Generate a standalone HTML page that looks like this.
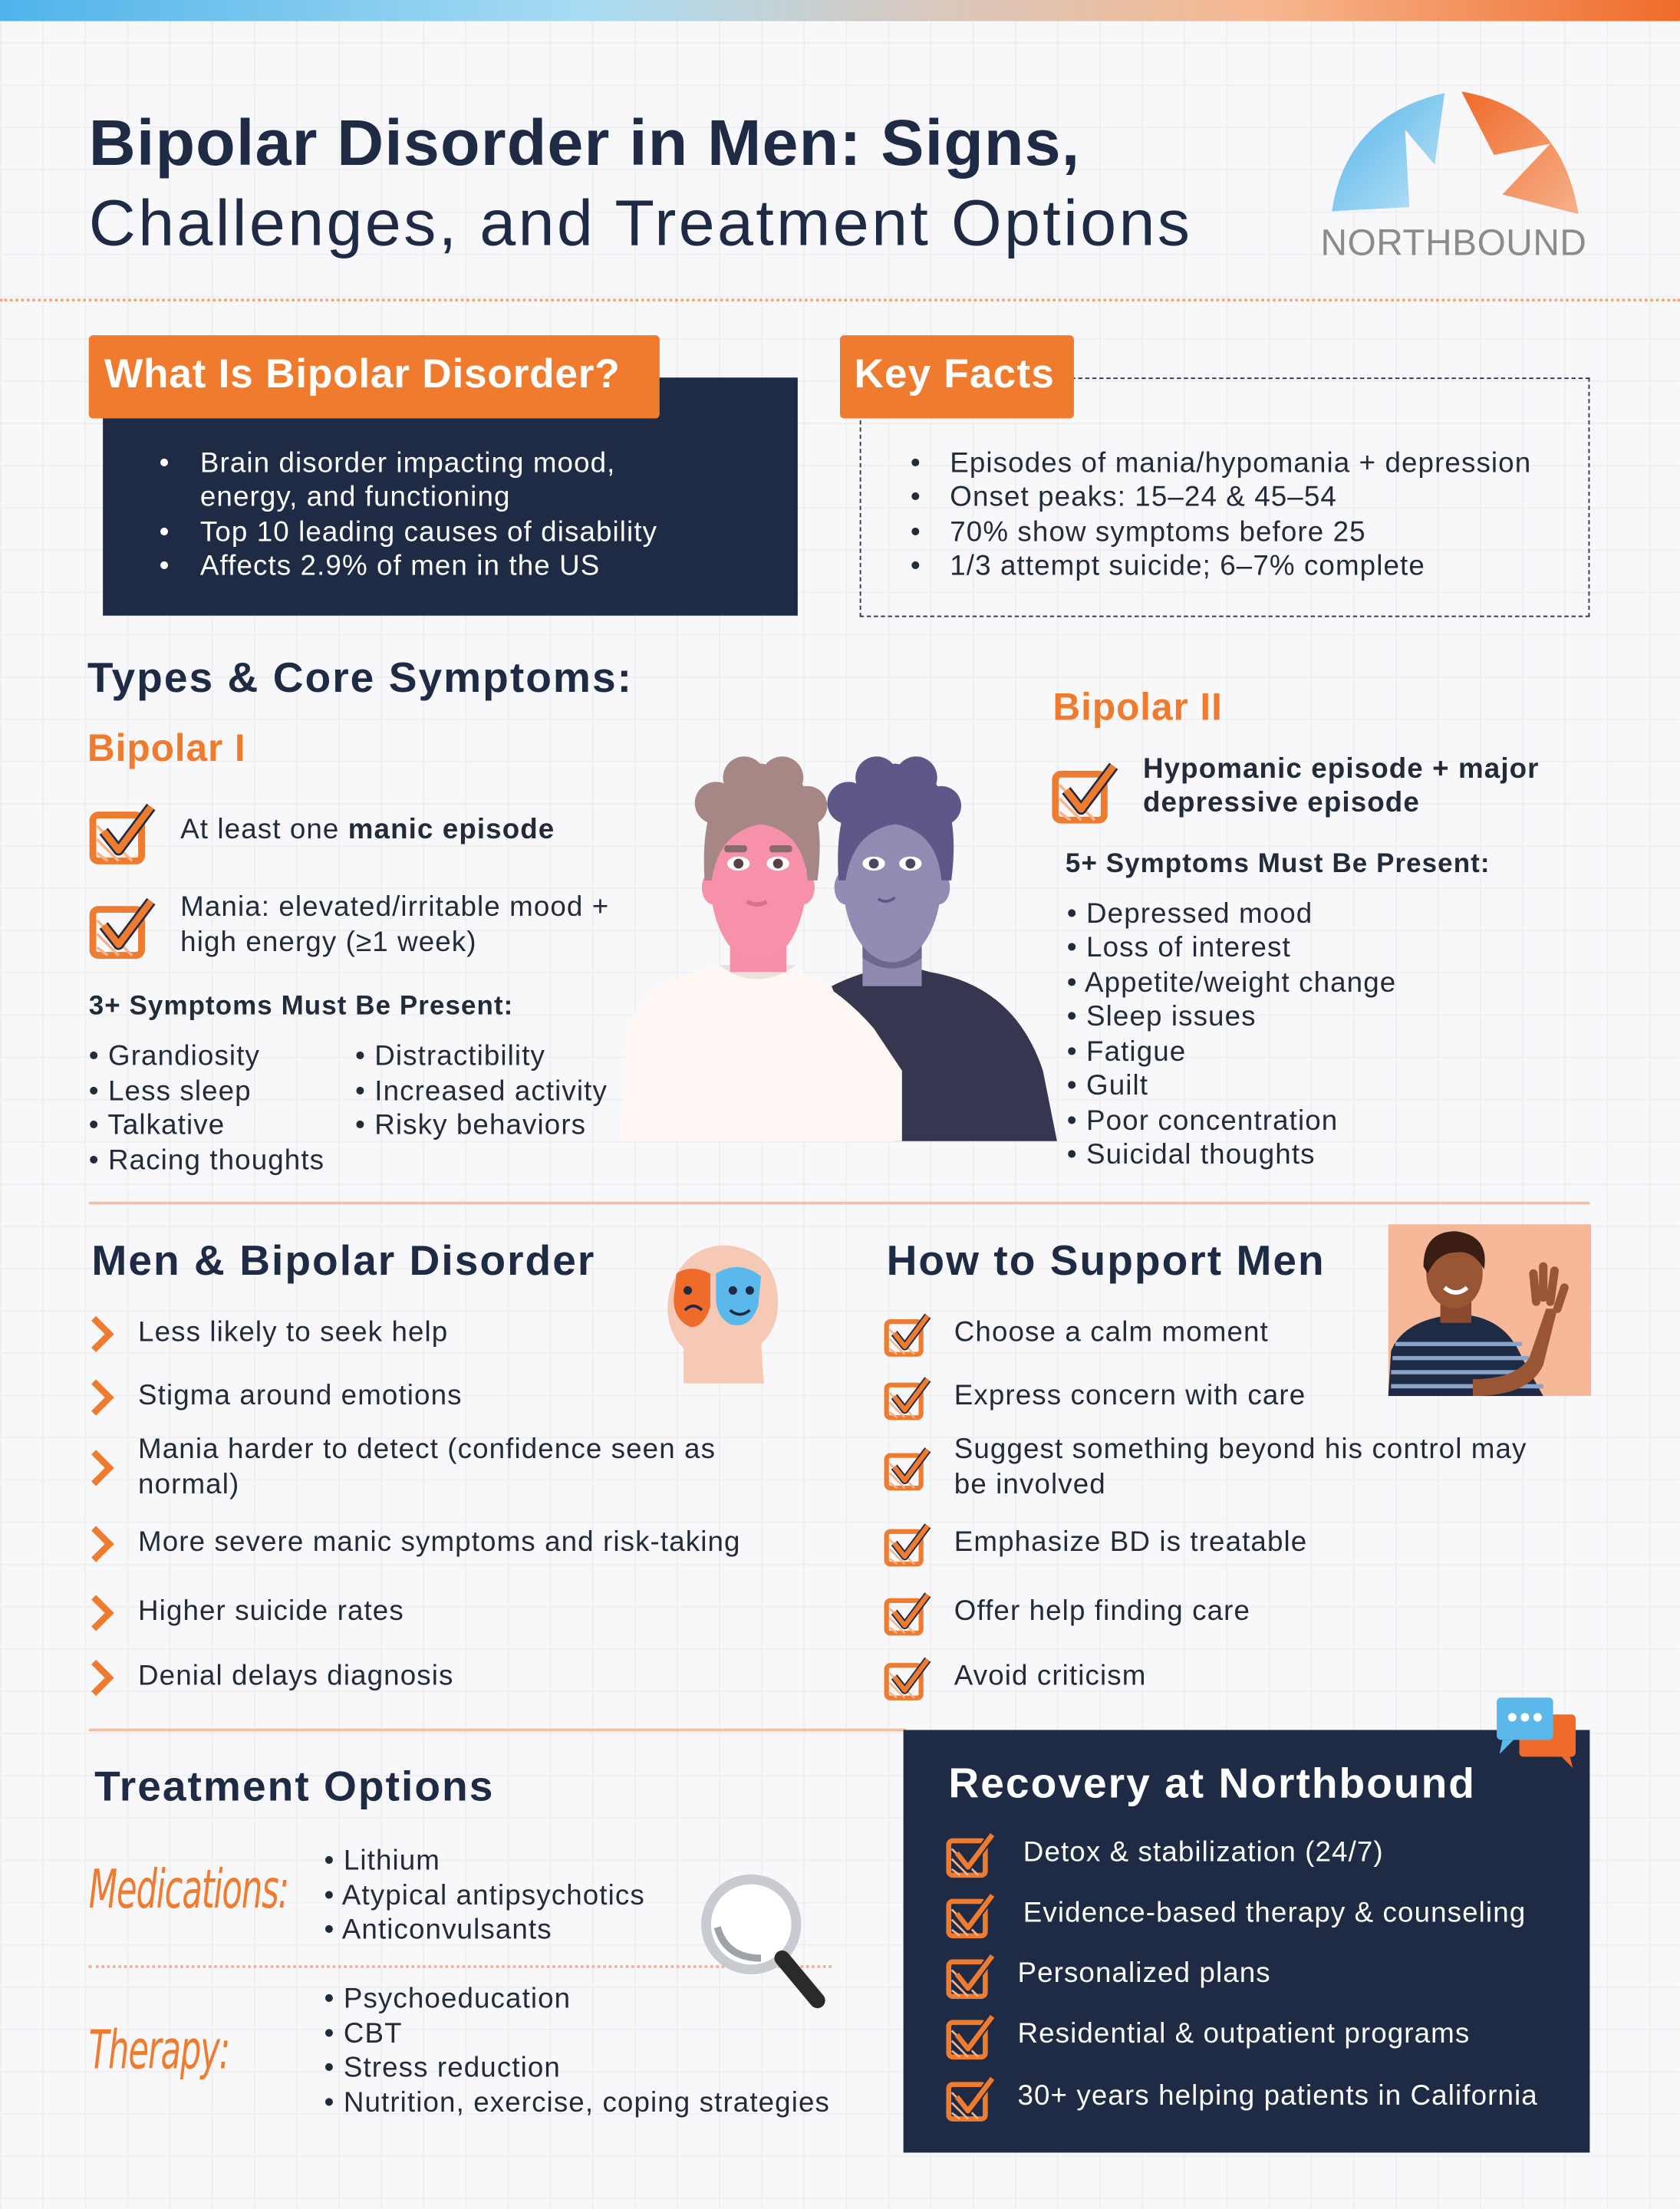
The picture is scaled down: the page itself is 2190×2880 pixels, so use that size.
<!DOCTYPE html>
<html><head><meta charset="utf-8">
<style>
html,body{margin:0;padding:0;}
body{width:2190px;height:2880px;overflow:hidden;background:#f8f8fa;}
#w{position:absolute;left:0;top:0;width:1192px;height:1568px;transform-origin:0 0;transform:scale(1.8372,1.8367);
 background-color:#f8f8fa;
 background-image:linear-gradient(#efeff2 1px,transparent 1px),linear-gradient(90deg,#efeff2 1px,transparent 1px);background-size:30px 30px;
 font-family:"Liberation Sans",sans-serif;color:#1f2a44;}
.t{position:absolute;white-space:nowrap;line-height:1;}
.b{font-size:20px;letter-spacing:0.6px;color:#222b3a;}
.h{font-size:30px;font-weight:bold;color:#1f2a44;letter-spacing:1.1px;}
.o{color:#ef7b2f;}
.w{color:#fff;}
.ck{position:absolute;}
</style></head><body>
<div id="w">
<svg width="0" height="0" style="position:absolute">
<defs>
<symbol id="ck" viewBox="0 0 50 50">
<rect x="3" y="12" width="36" height="34" rx="4" fill="none" stroke="#ef7b2f" stroke-width="5"/>
<path d="M6 40 L14 46 M6 30 L22 46 M6 20 L32 46" stroke="#f6b48a" stroke-width="2"/>
<path d="M11 24 L22 38 L46 6" fill="none" stroke="#1f2a44" stroke-width="8" stroke-linejoin="round"/>
<path d="M11 24 L22 38 L46 6" fill="none" stroke="#ef7b2f" stroke-width="5" stroke-linejoin="round"/>
</symbol>
<symbol id="chev" viewBox="0 0 20 30">
<path d="M3 3 L15 15 L3 27" fill="none" stroke="#ef7b2f" stroke-width="5"/>
</symbol>
</defs></svg>

<div style="position:absolute;left:0;top:0;width:1192px;height:15px;background:linear-gradient(90deg,#4fb3ea 0%,#a8dcf3 35%,#d8c9bf 55%,#f6b890 75%,#f06b2a 100%);"></div>

<div class="t" style="left:63px;top:78px;font-size:46px;font-weight:bold;color:#1f2a44;letter-spacing:0.6px;">Bipolar Disorder in Men: Signs,</div>
<div class="t" style="left:63px;top:135px;font-size:46px;color:#1f2a44;letter-spacing:1.8px;">Challenges, and Treatment Options</div>

<svg style="position:absolute;left:940px;top:62px" width="185" height="95" viewBox="0 0 185 95">
<defs>
<linearGradient id="lb" x1="0" y1="0" x2="1" y2="1"><stop offset="0" stop-color="#4fb3ea"/><stop offset="1" stop-color="#bfe3f5"/></linearGradient>
<linearGradient id="lo" x1="0" y1="0" x2="1" y2="1"><stop offset="0" stop-color="#ef6b2a"/><stop offset="1" stop-color="#f6b08a"/></linearGradient>
</defs>
<path d="M5 88 Q15 20 85 4 L78 55 L57 30 L60 85 Z" fill="url(#lb)"/>
<path d="M97 3 Q168 15 180 90 L126 76 L160 40 L120 48 Z" fill="url(#lo)"/>
</svg>
<div class="t" style="left:937px;top:159px;font-size:26px;color:#8b8b8b;letter-spacing:0.3px;">NORTHBOUND</div>

<div style="position:absolute;left:0;top:212px;width:1192px;border-top:2px dotted #f3a77e;"></div>

<div style="position:absolute;left:73px;top:268px;width:493px;height:169px;background:#1f2a44;"></div>
<div style="position:absolute;left:63px;top:238px;width:405px;height:59px;background:#ef7b2f;border-radius:3px;"></div>
<div class="t w" style="left:74px;top:252px;font-size:29px;font-weight:bold;letter-spacing:0.4px;">What Is Bipolar Disorder?</div>
<div class="t b w" style="left:113px;top:319px;">•</div><div class="t b w" style="left:142px;top:319px;">Brain disorder impacting mood,</div>
<div class="t b w" style="left:142px;top:343px;">energy, and functioning</div>
<div class="t b w" style="left:113px;top:368px;">•</div><div class="t b w" style="left:142px;top:368px;">Top 10 leading causes of disability</div>
<div class="t b w" style="left:113px;top:392px;">•</div><div class="t b w" style="left:142px;top:392px;">Affects 2.9% of men in the US</div>

<div style="position:absolute;left:610px;top:268px;width:516px;height:168px;border:1.5px dashed #2a3350;"></div>
<div style="position:absolute;left:596px;top:238px;width:166px;height:59px;background:#ef7b2f;border-radius:3px;"></div>
<div class="t w" style="left:606px;top:252px;font-size:29px;font-weight:bold;letter-spacing:0.6px;">Key Facts</div>
<div class="t b" style="left:646px;top:319px;">•</div><div class="t b" style="left:674px;top:319px;">Episodes of mania/hypomania + depression</div>
<div class="t b" style="left:646px;top:343px;">•</div><div class="t b" style="left:674px;top:343px;">Onset peaks: 15–24 &amp; 45–54</div>
<div class="t b" style="left:646px;top:368px;">•</div><div class="t b" style="left:674px;top:368px;">70% show symptoms before 25</div>
<div class="t b" style="left:646px;top:392px;">•</div><div class="t b" style="left:674px;top:392px;">1/3 attempt suicide; 6–7% complete</div>

<div class="t h" style="left:62px;top:467px;">Types &amp; Core Symptoms:</div>
<div class="t o" style="left:62px;top:518px;font-size:27px;font-weight:bold;letter-spacing:0.5px;">Bipolar I</div>
<svg class="ck" style="left:63px;top:567px" width="48" height="48"><use href="#ck"/></svg>
<div class="t b" style="left:128px;top:579px;">At least one <b>manic episode</b></div>
<svg class="ck" style="left:63px;top:634px" width="48" height="48"><use href="#ck"/></svg>
<div class="t b" style="left:128px;top:634px;">Mania: elevated/irritable mood +</div>
<div class="t b" style="left:128px;top:659px;">high energy (≥1 week)</div>
<div class="t b" style="left:63px;top:705px;font-weight:bold;font-size:19px;">3+ Symptoms Must Be Present:</div>
<div class="t b" style="left:63px;top:740px;">• Grandiosity</div>
<div class="t b" style="left:63px;top:765px;">• Less sleep</div>
<div class="t b" style="left:63px;top:789px;">• Talkative</div>
<div class="t b" style="left:63px;top:814px;">• Racing thoughts</div>
<div class="t b" style="left:252px;top:740px;">• Distractibility</div>
<div class="t b" style="left:252px;top:765px;">• Increased activity</div>
<div class="t b" style="left:252px;top:789px;">• Risky behaviors</div>

<svg style="position:absolute;left:440px;top:530px" width="312" height="282" viewBox="0 0 312 282">
<path d="M150 170 Q190 150 220 160 Q280 170 300 230 L310 280 L195 280 Z" fill="#373650"/>
<rect x="172" y="110" width="42" height="60" fill="#8e89b0"/>
<path d="M172 150 Q193 165 214 150 L214 140 L172 140 Z" fill="#6e6890"/>
<ellipse cx="193" cy="95" rx="35" ry="58" fill="#918cb3"/>
<ellipse cx="160" cy="100" rx="8" ry="12" fill="#918cb3"/><ellipse cx="226" cy="100" rx="8" ry="12" fill="#918cb3"/>
<path d="M155 95 Q150 20 195 12 Q245 18 235 95 L228 95 Q225 60 195 55 Q165 60 160 95 Z" fill="#5e5889"/>
<circle cx="162" cy="40" r="15" fill="#5e5889"/><circle cx="182" cy="22" r="15" fill="#5e5889"/><circle cx="210" cy="22" r="15" fill="#5e5889"/><circle cx="228" cy="42" r="14" fill="#5e5889"/>
<ellipse cx="180" cy="83" rx="8" ry="5" fill="#fff"/><circle cx="180" cy="83" r="3.5" fill="#4a4560"/>
<ellipse cx="206" cy="83" rx="8" ry="5" fill="#fff"/><circle cx="206" cy="83" r="3.5" fill="#4a4560"/>
<path d="M183 108 Q189 112 195 107" stroke="#5e5889" stroke-width="2" fill="none"/>
<path d="M0 280 L5 200 Q15 165 75 155 L105 150 Q150 165 180 200 L200 230 L200 280 Z" fill="#fff7f3"/>
<path d="M70 155 Q97 175 125 155 Z" fill="#e8e2de"/>
<rect x="78" y="110" width="40" height="50" fill="#f58fa8"/>
<path d="M78 140 Q98 155 118 140 Z" fill="#d9718d"/>
<ellipse cx="98" cy="95" rx="34" ry="58" fill="#f790a9"/>
<ellipse cx="66" cy="100" rx="8" ry="12" fill="#f790a9"/><ellipse cx="130" cy="100" rx="8" ry="12" fill="#f790a9"/>
<path d="M60 95 Q55 20 100 12 Q150 18 140 95 L133 95 Q130 60 100 55 Q70 60 65 95 Z" fill="#a78786"/>
<circle cx="68" cy="40" r="15" fill="#a78786"/><circle cx="88" cy="22" r="15" fill="#a78786"/><circle cx="115" cy="22" r="15" fill="#a78786"/><circle cx="133" cy="42" r="14" fill="#a78786"/>
<rect x="74" y="70" width="16" height="5" rx="2" fill="#8a6a68"/><rect x="106" y="70" width="16" height="5" rx="2" fill="#8a6a68"/>
<ellipse cx="84" cy="83" rx="8" ry="5" fill="#fff"/><circle cx="84" cy="83" r="3.5" fill="#5a4040"/>
<ellipse cx="112" cy="83" rx="8" ry="5" fill="#fff"/><circle cx="112" cy="83" r="3.5" fill="#5a4040"/>
<path d="M90 110 Q97 114 104 110" stroke="#d9718d" stroke-width="3" fill="none"/>
</svg>

<div class="t o" style="left:747px;top:489px;font-size:27px;font-weight:bold;letter-spacing:0.5px;">Bipolar II</div>
<svg class="ck" style="left:746px;top:538px" width="48" height="48"><use href="#ck"/></svg>
<div class="t b" style="left:811px;top:536px;font-weight:bold;">Hypomanic episode + major</div>
<div class="t b" style="left:811px;top:560px;font-weight:bold;">depressive episode</div>
<div class="t b" style="left:756px;top:604px;font-weight:bold;font-size:19px;">5+ Symptoms Must Be Present:</div>
<div class="t b" style="left:757px;top:639px;">• Depressed mood</div>
<div class="t b" style="left:757px;top:663px;">• Loss of interest</div>
<div class="t b" style="left:757px;top:688px;">• Appetite/weight change</div>
<div class="t b" style="left:757px;top:712px;">• Sleep issues</div>
<div class="t b" style="left:757px;top:737px;">• Fatigue</div>
<div class="t b" style="left:757px;top:761px;">• Guilt</div>
<div class="t b" style="left:757px;top:786px;">• Poor concentration</div>
<div class="t b" style="left:757px;top:810px;">• Suicidal thoughts</div>

<div style="position:absolute;left:63px;top:853px;width:1065px;height:2px;background:#f4c0a4;"></div>

<div class="t h" style="left:65px;top:881px;">Men &amp; Bipolar Disorder</div>
<svg style="position:absolute;left:470px;top:882px" width="85" height="105" viewBox="0 0 85 105">
<path d="M15 100 L15 75 Q0 60 5 35 Q15 2 45 2 Q80 5 82 40 Q83 60 70 72 L72 100 Z" fill="#f5c9b5"/>
<path d="M10 22 Q20 15 34 22 L34 45 Q30 60 20 60 Q8 55 8 40 Z" fill="#ef6b2a"/>
<path d="M38 22 Q55 12 70 24 L68 45 Q62 62 48 58 Q38 52 38 40 Z" fill="#5bb8ea"/>
<circle cx="18" cy="34" r="3" fill="#1f2a44"/><circle cx="50" cy="34" r="3" fill="#1f2a44"/><circle cx="62" cy="34" r="3" fill="#1f2a44"/>
<path d="M16 48 Q22 42 28 48" stroke="#1f2a44" stroke-width="2" fill="none"/>
<path d="M48 48 Q55 54 62 48" stroke="#1f2a44" stroke-width="2" fill="none"/>
</svg>
<svg class="ck" style="left:63px;top:933px" width="20" height="28"><use href="#chev"/></svg>
<div class="t b" style="left:98px;top:936px;">Less likely to seek help</div>
<svg class="ck" style="left:63px;top:978px" width="20" height="28"><use href="#chev"/></svg>
<div class="t b" style="left:98px;top:981px;">Stigma around emotions</div>
<svg class="ck" style="left:63px;top:1028px" width="20" height="28"><use href="#chev"/></svg>
<div class="t b" style="left:98px;top:1019px;">Mania harder to detect (confidence seen as</div>
<div class="t b" style="left:98px;top:1044px;">normal)</div>
<svg class="ck" style="left:63px;top:1082px" width="20" height="28"><use href="#chev"/></svg>
<div class="t b" style="left:98px;top:1085px;">More severe manic symptoms and risk-taking</div>
<svg class="ck" style="left:63px;top:1131px" width="20" height="28"><use href="#chev"/></svg>
<div class="t b" style="left:98px;top:1134px;">Higher suicide rates</div>
<svg class="ck" style="left:63px;top:1177px" width="20" height="28"><use href="#chev"/></svg>
<div class="t b" style="left:98px;top:1180px;">Denial delays diagnosis</div>

<div class="t h" style="left:629px;top:881px;">How to Support Men</div>
<svg style="position:absolute;left:985px;top:869px" width="144" height="122" viewBox="0 0 144 122">
<rect width="144" height="122" fill="#f6b899"/>
<path d="M0 122 L2 90 Q10 70 40 65 L60 65 Q85 70 95 95 L110 122 Z" fill="#1f2a44"/>
<path d="M5 85 H95 M3 95 H100 M2 105 H105 M2 115 H110" stroke="#8aa3c9" stroke-width="3"/>
<rect x="37" y="50" width="22" height="20" fill="#8b4a2f"/>
<ellipse cx="47" cy="35" rx="20" ry="25" fill="#9a5634"/>
<path d="M25 30 Q25 5 48 5 Q72 8 68 32 Q60 18 48 20 Q35 20 28 35 Z" fill="#3a1e14"/>
<path d="M40 45 Q48 52 56 45" stroke="#fff" stroke-width="3" fill="none"/>
<path d="M60 110 Q90 110 100 95 L112 60 L120 60 L110 100 Q100 122 60 122 Z" fill="#9a5634"/>
<path d="M105 55 L103 35 M110 52 L110 30 M115 55 L118 33 M120 60 L125 45" stroke="#9a5634" stroke-width="6" stroke-linecap="round"/>
</svg>
<svg class="ck" style="left:627px;top:930px" width="34" height="34"><use href="#ck"/></svg>
<div class="t b" style="left:677px;top:936px;">Choose a calm moment</div>
<svg class="ck" style="left:627px;top:975px" width="34" height="34"><use href="#ck"/></svg>
<div class="t b" style="left:677px;top:981px;">Express concern with care</div>
<svg class="ck" style="left:627px;top:1025px" width="34" height="34"><use href="#ck"/></svg>
<div class="t b" style="left:677px;top:1019px;">Suggest something beyond his control may</div>
<div class="t b" style="left:677px;top:1044px;">be involved</div>
<svg class="ck" style="left:627px;top:1079px" width="34" height="34"><use href="#ck"/></svg>
<div class="t b" style="left:677px;top:1085px;">Emphasize BD is treatable</div>
<svg class="ck" style="left:627px;top:1128px" width="34" height="34"><use href="#ck"/></svg>
<div class="t b" style="left:677px;top:1134px;">Offer help finding care</div>
<svg class="ck" style="left:627px;top:1174px" width="34" height="34"><use href="#ck"/></svg>
<div class="t b" style="left:677px;top:1180px;">Avoid criticism</div>

<div style="position:absolute;left:63px;top:1227px;width:580px;height:2px;background:#f4c0a4;"></div>

<div class="t h" style="left:67px;top:1254px;">Treatment Options</div>
<div class="t o" style="left:63px;top:1322px;font-size:38px;font-style:italic;font-family:'DejaVu Sans',sans-serif;font-weight:200;transform:scaleX(0.62);transform-origin:0 0;letter-spacing:-1px;">Medications:</div>
<div class="t b" style="left:230px;top:1311px;">• Lithium</div>
<div class="t b" style="left:230px;top:1336px;">• Atypical antipsychotics</div>
<div class="t b" style="left:230px;top:1360px;">• Anticonvulsants</div>
<div style="position:absolute;left:63px;top:1395px;width:527px;border-top:2px dotted #f3b08e;"></div>
<div class="t o" style="left:63px;top:1436px;font-size:38px;font-style:italic;font-family:'DejaVu Sans',sans-serif;font-weight:200;transform:scaleX(0.62);transform-origin:0 0;letter-spacing:-1px;">Therapy:</div>
<div class="t b" style="left:230px;top:1409px;">• Psychoeducation</div>
<div class="t b" style="left:230px;top:1434px;">• CBT</div>
<div class="t b" style="left:230px;top:1458px;">• Stress reduction</div>
<div class="t b" style="left:230px;top:1483px;">• Nutrition, exercise, coping strategies</div>
<svg style="position:absolute;left:495px;top:1328px" width="92" height="100" viewBox="0 0 92 100">
<circle cx="38" cy="38" r="32" fill="#fff" stroke="#c8ccd2" stroke-width="7"/>
<path d="M14 40 Q20 62 45 62" stroke="#9ea3aa" stroke-width="5" fill="none"/>
<path d="M60 62 L85 92" stroke="#2a2a2a" stroke-width="11" stroke-linecap="round"/>
</svg>

<div style="position:absolute;left:641px;top:1228px;width:487px;height:300px;background:#1f2a44;"></div>
<svg style="position:absolute;left:1060px;top:1203px" width="62" height="52" viewBox="0 0 62 52">
<rect x="18" y="14" width="40" height="30" rx="3" fill="#ef6b2a"/><path d="M48 44 L56 52 L54 44 Z" fill="#ef6b2a"/>
<rect x="2" y="2" width="40" height="30" rx="3" fill="#5bb8ea"/><path d="M6 32 L4 42 L14 32 Z" fill="#5bb8ea"/>
<circle cx="13" cy="16" r="3" fill="#fff"/><circle cx="22" cy="16" r="3" fill="#fff"/><circle cx="31" cy="16" r="3" fill="#fff"/>
</svg>
<div class="t h w" style="left:673px;top:1252px;">Recovery at Northbound</div>
<svg class="ck" style="left:671px;top:1298px" width="36" height="36"><use href="#ck"/></svg>
<div class="t b w" style="left:726px;top:1305px;">Detox &amp; stabilization (24/7)</div>
<svg class="ck" style="left:671px;top:1341px" width="36" height="36"><use href="#ck"/></svg>
<div class="t b w" style="left:726px;top:1348px;">Evidence-based therapy &amp; counseling</div>
<svg class="ck" style="left:671px;top:1384px" width="36" height="36"><use href="#ck"/></svg>
<div class="t b w" style="left:722px;top:1391px;">Personalized plans</div>
<svg class="ck" style="left:671px;top:1427px" width="36" height="36"><use href="#ck"/></svg>
<div class="t b w" style="left:722px;top:1434px;">Residential &amp; outpatient programs</div>
<svg class="ck" style="left:671px;top:1471px" width="36" height="36"><use href="#ck"/></svg>
<div class="t b w" style="left:722px;top:1478px;">30+ years helping patients in California</div>
</div>
</body></html>
